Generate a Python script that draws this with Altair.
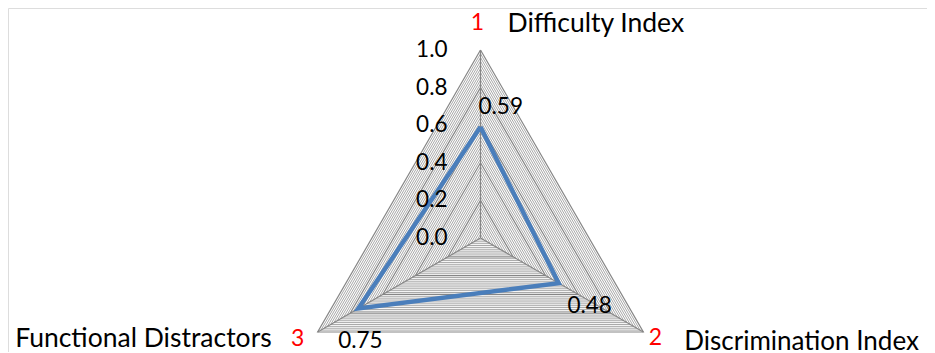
import altair as alt
import pandas as pd
import numpy as np

# ---- data ----
categories = ["Difficulty Index", "Discrimination Index", "Functional Distractors"]
numbers = ["1", "2", "3"]
values = [0.59, 0.48, 0.75]
value_labels = ["0.59", "0.48", "0.75"]
tick_values = [0.0, 0.2, 0.4, 0.6, 0.8, 1.0]
tick_labels = ["0.0", "0.2", "0.4", "0.6", "0.8", "1.0"]
minor_step = 0.02

# ---- geometry (radar) ----
angles = [np.deg2rad(90 - 120 * i) for i in range(len(categories))]
W, H = 919, 344
R = 188.0              # pixel radius of value 1.0
CX, CY = 472.5, 230.0  # pixel centre inside the plot area
xdom = [-CX / R, (W - CX) / R]
ydom = [-(H - CY) / R, CY / R]
FONT = "Lato"

xs = alt.Scale(domain=xdom, nice=False, zero=False)
ys = alt.Scale(domain=ydom, nice=False, zero=False)

def polar(v, i):
    return v * np.cos(angles[i]), v * np.sin(angles[i])

# grid triangles
levels = np.round(np.arange(1, int(round(1 / minor_step)) + 1) * minor_step, 4)
rows = []
for lv in levels:
    major = any(abs(lv - t) < 1e-9 for t in tick_values)
    for k in range(len(categories) + 1):
        i = k % len(categories)
        x, y = polar(lv, i)
        rows.append(dict(level=lv, k=k, x=x, y=y, major=major))
grid = pd.DataFrame(rows)

spokes = pd.DataFrame([dict(x=0.0, y=0.0, x2=polar(1.0, i)[0], y2=polar(1.0, i)[1])
                       for i in range(len(categories))])

series = pd.DataFrame([dict(k=k, x=polar(values[k % 3], k % 3)[0], y=polar(values[k % 3], k % 3)[1])
                       for k in range(len(categories) + 1)])

ticks_df = pd.DataFrame(dict(x=[0.0] * len(tick_values), y=tick_values, t=tick_labels))

def enc(m, **kw):
    return m.encode(x=alt.X("x:Q", scale=xs, axis=None),
                    y=alt.Y("y:Q", scale=ys, axis=None), **kw)

layers = []
layers.append(enc(alt.Chart(grid[~grid.major]).mark_line(color="#a8a8a8", strokeWidth=1),
                  detail="level:N", order="k:Q"))
layers.append(enc(alt.Chart(grid[grid.major]).mark_line(color="#868686", strokeWidth=1.2),
                  detail="level:N", order="k:Q"))
layers.append(alt.Chart(spokes).mark_rule(color="#868686", strokeWidth=1.2).encode(
    x=alt.X("x:Q", scale=xs, axis=None), y=alt.Y("y:Q", scale=ys, axis=None),
    x2="x2:Q", y2="y2:Q"))
layers.append(enc(alt.Chart(series).mark_line(color="#4a7ebb", strokeWidth=4.5, strokeJoin="miter"),
                  order="k:Q"))
layers.append(enc(alt.Chart(ticks_df).mark_text(align="right", baseline="middle", dx=-33,
                                                  font=FONT, fontSize=22.5, color="#000000"),
                  text="t:N"))

# per-vertex label offsets (style): (dx, dy of alphabetic baseline)
num_off = [(-3, -20), (12, 13), (-20, 14)]
name_off = [(27, "left", -18), (41, "left", 18), (-46, "right", 15)]
name_size = [26.5, 26, 26.5]
val_off = [(-2, "left", -13), (31, "center", 30), (2, "center", 39)]

for i in range(len(categories)):
    vx, vy = polar(1.0, i)
    px, py = polar(values[i], i)
    d = pd.DataFrame(dict(x=[vx], y=[vy], n=[numbers[i]], c=[categories[i]]))
    dv = pd.DataFrame(dict(x=[px], y=[py], t=[value_labels[i]]))
    layers.append(enc(alt.Chart(d).mark_text(align="center", baseline="alphabetic", dx=num_off[i][0],
                                             dy=num_off[i][1], font=FONT, fontSize=23, color="#ff0000"),
                      text="n:N"))
    layers.append(enc(alt.Chart(d).mark_text(align=name_off[i][1], baseline="alphabetic", dx=name_off[i][0],
                                             dy=name_off[i][2], font=FONT, fontSize=name_size[i],
                                             color="#000000"),
                      text="c:N"))
    layers.append(enc(alt.Chart(dv).mark_text(align=val_off[i][1], baseline="alphabetic", dx=val_off[i][0],
                                              dy=val_off[i][2], font=FONT, fontSize=22.5, color="#000000"),
                      text="t:N"))

chart = alt.layer(*layers).properties(
    width=W, height=H, autosize=alt.AutoSizeParams(type="none"), padding=0
).configure_view(stroke=None).configure(background="white")

chart.save("out.html", embed_options={"renderer": "svg", "actions": False})
